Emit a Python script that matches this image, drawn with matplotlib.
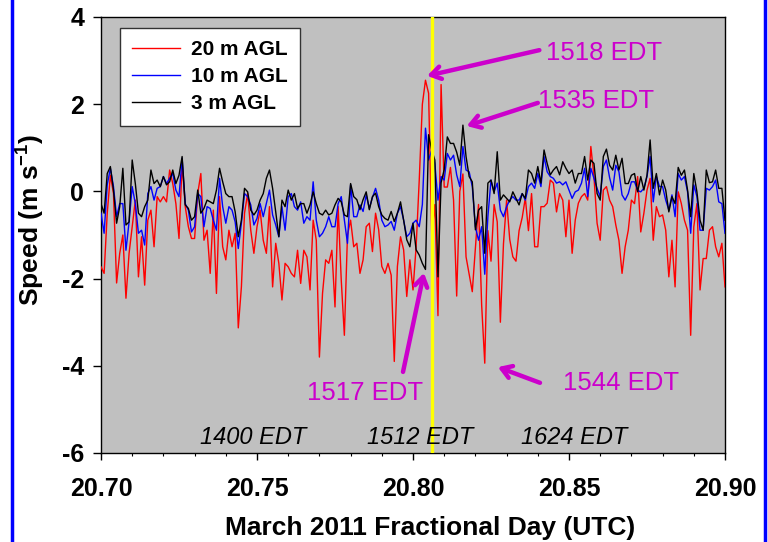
import numpy as np
import matplotlib
matplotlib.use("Agg")
import matplotlib.pyplot as plt
from matplotlib.ticker import MultipleLocator, FormatStrFormatter
from matplotlib.patches import Rectangle
from matplotlib import font_manager

# ---------------- data ----------------
day_start = 20.70
day_end = 20.90

speed_20m = [
    -1.73, -1.88, -0.50, 0.37, -0.05, -2.10, -1.42, -1.00, -2.45, -1.42, -0.81, -0.20, -1.96, -1.04, -2.15, -0.66,
    -0.43, -1.27, -0.12, -0.24, -0.12, -0.24, 0.49, 0.18, -0.28, -1.08, 0.64, -0.35, -0.81, -1.08, -1.08, -0.05,
    0.41, -1.12, -0.89, -1.88, -0.43, -2.34, -0.12, -1.27, -1.57, -0.89,
    -1.27, -0.96, -3.13, -2.19, -0.50, -0.05, -0.89, -1.42, -0.81, -0.43, -1.12, -1.42, -0.35, -2.19, -1.19, -1.65,
    -2.49, -1.65, -1.73, -1.88, -1.96, -1.35, -2.11, -1.35, -1.50, -2.26, -0.66, -1.12, -3.80, -2.34, -1.57, -1.65,
    -1.35, -2.65, -0.35, -2.03, -3.30, -1.00, -0.66, -1.27,
    -1.19, -1.88, -1.57, -0.81, -0.73, -1.38, -0.50, -0.88, -1.72, -1.88, -1.65, -1.92, -3.90, -1.72, -1.04, -1.34,
    -2.41, -1.57, -2.26, -1.27, 0.26, 2.00,
    2.55, 2.25, -1.00, -0.30, -2.85, 2.45, 0.10, 0.10, 0.55, -0.20, -2.40, 0.00, 0.40, -1.50, -1.90, -2.30,
    -1.30, -0.30, -2.60, -3.94, -0.90, -1.60, -0.30, -0.70, -3.00, -1.20, -0.20, -1.10, -1.50, -1.60, -0.90, -0.60,
    -0.15, -0.90,
    -0.05, -1.27, -1.27, -0.35, -0.35, -0.27, 0.26, 0.19, -0.47, -0.05, -0.20, -1.04, -0.20, -1.42, -0.66, -0.27,
    -0.12, -0.05, -0.20, 1.03, 0.34, -0.73, -1.12, 0.03,
    0.11, -0.20, -0.35, -0.77, -1.12, -1.88, -1.27, -0.89, -0.20, -0.28, 0.34, -0.93, -0.50, 0.03, 0.30, -1.12,
    -0.35, -0.58, -0.54, -0.89, -1.96, -1.12, -2.19, -0.01, -0.28, -0.66, -0.89, -3.30, -0.81, -0.28, -2.26, -1.54,
    -1.54, -0.89, -0.81, -1.27, -1.50, -1.19, -2.19,
]

speed_10m = [
    -0.50, -0.96, 0.15, 0.53, 0.11, -0.58, -0.28, -0.28, -1.35, -0.70, 0.11, -0.28, -0.96, -0.89, -1.23, -0.05,
    0.11, -0.20, 0.07, 0.11, 0.34, 0.18, 0.30, 0.41, 0.03, -0.12, 0.76, -0.28, -0.43, -0.93, -0.81, -0.05,
    -0.12, -0.81, -0.35, -0.39, -0.66, -0.89, 0.30, -0.35, -0.73, -0.35,
    -0.43, -0.70, -1.31, -0.73, -0.05, -0.12, -0.31, -0.77, -0.62, -0.28, -0.58, -0.28, 0.03, -0.54, -0.77, -1.04,
    -0.35, -0.89, -0.12, -0.05, -0.35, -0.43, -0.24, -0.73, -0.58, -0.66, 0.22, -0.66, -1.04, -0.96, -0.81, -0.58,
    -0.81, -0.81, -0.28, -0.12, -0.66, -1.19, 0.15, -0.58,
    -0.58, -0.31, -0.46, -0.08, -0.39, -0.14, 0.07, -0.20, -0.66, -0.81, -0.77, -0.69, -0.89, -0.50, -0.35, -0.66,
    -1.04, -0.96, -0.73, -0.66, -0.81, -0.30,
    1.45, 0.72, 0.95, 0.64, -0.20, 0.34, 0.26, 0.87, 0.72, 0.83, 0.38, 0.11, 1.03, 0.49, 0.45, 0.11,
    -0.81, -1.12, -0.81, -1.90, -0.58, 0.26, -0.01, 0.19, -0.43, -0.58, -0.35, -0.20, -0.12, -0.20, -0.20, -0.05,
    -0.20, 0.11,
    0.19, 0.07, 0.41, 0.11, 0.80, 0.45, 0.34, 0.30, 0.19, 0.22, 0.15, 0.22, 0.03, -0.16, -0.01, 0.03,
    0.19, 0.53, -0.12, 0.53, 0.30, 0.07, -0.12, 0.57,
    0.72, 0.32, 0.03, 0.60, 0.45, -0.08, -0.20, -0.05, 0.22, 0.22, 0.02, -0.01, 0.07, 0.34, 0.80, -0.24,
    0.34, 0.11, 0.11, -0.20, -0.43, -0.08, -0.58, 0.41, 0.26, 0.34, -0.01, -0.96, 0.15, -0.12, -0.89, -0.89,
    0.07, 0.03, 0.11, 0.26, -0.24, -0.28, -0.96,
]

speed_3m = [
    -0.28, -0.50, 0.41, 0.57, 0.03, -0.73, -0.35, 0.53, -0.77, -0.70, 0.72, 0.18, -0.50, -0.58, -0.35, -0.20,
    0.49, 0.18, 0.26, 0.11, 0.34, 0.15, 0.22, 0.49, 0.18, 0.37, 0.80, -0.31, -0.39, -0.66, -0.58, 0.03,
    -0.50, -0.39, -0.20, -0.24, -0.28, 0.03, 0.53, 0.22, -0.05, -0.12,
    -0.12, -0.47, -1.04, -0.66, 0.07, -0.01, -0.43, -0.54, -0.43, -0.20, -0.05, 0.30, 0.49, 0.07, -0.47, -1.04,
    -0.20, -0.35, 0.03, -0.20, -0.05, -0.39, -0.28, -0.28, -0.50, -0.31, -0.01, -0.28, -0.50, -0.54, -0.43, -0.54,
    -0.50, -0.31, -0.16, -0.24, -0.54, -0.58, 0.18, -0.12,
    -0.19, -0.42, -0.19, -0.01, -0.42, -0.12, -0.04, -0.35, -0.54, -0.62, -0.66, -0.46, -0.69, -0.50, -0.24, -0.66,
    -1.11, -1.27, -0.73, -1.34, -1.46, -1.65,
    -1.79, 1.30, 0.95, 0.72, -1.96, 0.20, 0.50, 1.25, 1.10, 1.10, 0.90, 0.60, 1.52, 0.80, 0.34, 0.22,
    -0.88, -0.43, -0.35, -1.42, 0.19, 0.26, -0.05, 0.91, -0.20, -0.08, -0.16, -0.24, -0.01, -0.16, -0.31, -0.05,
    -0.16, 0.49,
    0.41, 0.19, 0.57, 0.19, 0.95, 0.64, 0.38, 0.49, 0.57, 0.38, 0.68, 0.53, 0.41, 0.49, 0.19, 0.41,
    0.41, 0.80, 0.26, 0.72, 0.64, -0.05, -0.20, 0.80,
    0.97, 0.60, 0.49, 0.83, 0.49, 0.76, 0.18, 0.18, 0.37, 0.41, -0.01, 0.34, 0.03, 0.37, 1.18, 0.07,
    0.41, -0.08, 0.26, 0.03, -0.47, -0.12, -0.28, 0.55, 0.37, 0.49, 0.03, -0.58, 0.41, -0.01, -0.66, -0.89,
    0.49, 0.20, 0.22, 0.49, 0.07, 0.07, -0.66,
]

series_labels = ["20 m AGL", "10 m AGL", "3 m AGL"]
series_colors = ["#ff0000", "#0000ff", "#000000"]

event_day = 20.806
x_ticks = [20.70, 20.75, 20.80, 20.85, 20.90]
y_ticks = [-6, -4, -2, 0, 2, 4]

# annotations: (text, tip_x, tip_y, tail_x, tail_y, text_x, text_y, ha)
pink_notes = [
    ("1518 EDT", 20.8045, 2.65, 20.8405, 3.24, 20.8425, 3.17, "left"),
    ("1535 EDT", 20.8172, 1.50, 20.8400, 2.03, 20.8400, 2.07, "left"),
    ("1517 EDT", 20.8035, -1.87, 20.7968, -4.14, 20.7846, -4.62, "center"),
    ("1544 EDT", 20.8272, -4.03, 20.8407, -4.39, 20.8480, -4.39, "left"),
]
time_labels = ["1400 EDT", "1512 EDT", "1624 EDT"]
time_label_x = [20.7487, 20.8022, 20.8516]
time_label_y = -5.65

# ---------------- style ----------------
names = {f.name for f in font_manager.fontManager.ttflist}
base_font = "Liberation Sans" if "Liberation Sans" in names else "DejaVu Sans"
plt.rcParams["font.family"] = [base_font, "DejaVu Sans"]
plt.rcParams["axes.unicode_minus"] = False
plt.rcParams["mathtext.fontset"] = "custom"
plt.rcParams["mathtext.rm"] = base_font
plt.rcParams["mathtext.bf"] = base_font + ":bold"

fig = plt.figure(figsize=(7.68, 5.42), dpi=100)
ax = fig.add_axes([101 / 768, 1 - 453 / 542, 624 / 768, 436 / 542])
ax.set_facecolor("#c0c0c0")

n = len(speed_20m)
days = np.linspace(day_start, day_end, n)
series = [speed_20m, speed_10m, speed_3m]
for vals, lab, col in zip(series, series_labels, series_colors):
    ax.plot(days[:len(vals)], vals, color=col, lw=1.0, label=lab, zorder=3)

ax.axvline(event_day, color="#ffff00", lw=2.4, zorder=4)

ax.set_xlim(day_start, day_end)
ax.set_ylim(-6, 4)
ax.set_xticks(x_ticks)
ax.xaxis.set_major_formatter(FormatStrFormatter("%.2f"))
ax.xaxis.set_minor_locator(MultipleLocator(0.01))
ax.set_yticks(y_ticks)
ax.tick_params(axis="x", which="major", direction="out", length=5, width=1, pad=12, labelsize=18)
ax.tick_params(axis="x", which="minor", direction="out", length=2, width=0.8)
ax.tick_params(axis="y", which="major", direction="out", length=6, width=1, pad=6, labelsize=18)
for lbl in ax.get_xticklabels() + ax.get_yticklabels():
    lbl.set_fontweight("bold")
for sp in ax.spines.values():
    sp.set_linewidth(1.0)

ax.set_xlabel("March 2011 Fractional Day (UTC)", fontsize=19, fontweight="bold")
ax.set_ylabel(r"Speed (m s$^{\mathbf{-1}}$)", fontsize=19, fontweight="bold")
ax.xaxis.set_label_coords(0.527, -0.145)
ax.yaxis.set_label_coords(-0.088, 0.535)

leg = ax.legend(loc="upper left", bbox_to_anchor=(0.0304, 0.975), borderaxespad=0,
                prop={"weight": "bold", "size": 15}, handlelength=2.3, handletextpad=0.5,
                labelspacing=0.38, borderpad=0.6, fancybox=False, framealpha=1,
                edgecolor="#333333")
leg.get_frame().set_linewidth(1.0)
leg.set_zorder(6)

magenta = "#cc00cc"
for txt, tx, ty, sx, sy, lx, ly, ha in pink_notes:
    ax.annotate("", xy=(tx, ty), xytext=(sx, sy),
                arrowprops=dict(arrowstyle="->,head_length=0.7,head_width=0.45", color=magenta, lw=3.2,
                                shrinkA=0, shrinkB=0), zorder=7)
    ax.text(lx, ly, txt, color=magenta, fontsize=18.5, ha=ha, va="center", zorder=7)

for t, x in zip(time_labels, time_label_x):
    ax.text(x, time_label_y, t, fontsize=17, style="italic", ha="center", va="center", color="black", zorder=5)

fig.patches.append(Rectangle((12 / 768, -0.05), (765 - 12) / 768, 1.1, transform=fig.transFigure,
                             fill=False, edgecolor="#0000ff", lw=2.5, clip_on=False))

fig.savefig("out.png", dpi=100, facecolor="white")
